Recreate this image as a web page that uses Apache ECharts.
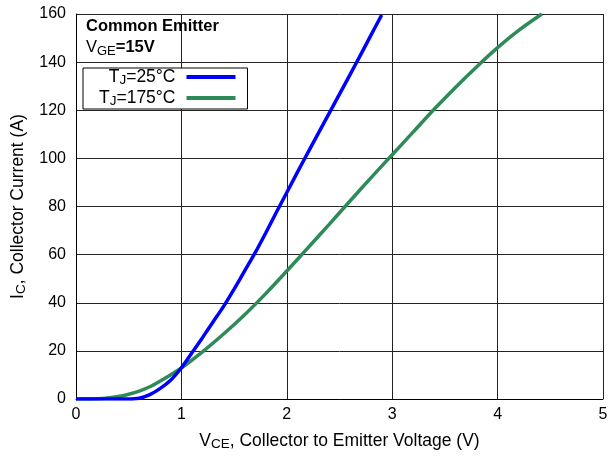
<!DOCTYPE html>
<html>
<head>
<meta charset="utf-8">
<script src="https://cdn.jsdelivr.net/npm/echarts@6/dist/echarts.min.js"></script>
<style>
html,body{margin:0;padding:0;background:#fff;}
#c{width:613px;height:456px;}
</style>
</head>
<body>
<div id="c"></div>
<script>
// Data
const xTicks = [0, 1, 2, 3, 4, 5];
const yTicks = [0, 20, 40, 60, 80, 100, 120, 140, 160];
const vce25 = [0, 0.3, 0.5, 0.6, 0.7, 0.8, 0.9, 1.0, 1.1, 1.2, 1.3, 1.4, 1.5, 1.6, 1.7, 1.8, 1.9, 2.0, 2.1, 2.2, 2.3, 2.4, 2.5, 2.6, 2.7, 2.8, 2.9];
const ic25  = [0, 0, 0, 0.3, 1.8, 4.4, 7.9, 13.0, 19.2, 25.5, 32, 38.5, 45.7, 53.2, 60.8, 69, 77.5, 85.8, 94.2, 102.4, 110.5, 118.6, 126.7, 134.8, 143, 151.3, 159.6];
const vce175 = [0, 0.1, 0.2, 0.3, 0.4, 0.5, 0.6, 0.7, 0.8, 0.9, 1.0, 1.2, 1.4, 1.6, 1.8, 2.0, 2.2, 2.4, 2.6, 2.8, 3.0, 3.2, 3.4, 3.6, 3.8, 4.0, 4.2, 4.42];
const ic175  = [0, 0, 0.1, 0.4, 1.0, 2.0, 3.3, 5.1, 7.5, 10.1, 12.9, 19.6, 27, 35, 43.8, 53.2, 62.8, 72.5, 82.3, 92, 101.5, 111, 120.5, 129.5, 138, 146, 153.2, 160];
const seriesNames = ['T_J=25°C', 'T_J=175°C'];

const pts = (xs, ys) => xs.map((x, i) => [x, ys[i]]);
const FONT = 'Liberation Sans, Arial, Helvetica, sans-serif';
const richSub = (size, sub, lh) => ({
  n: {fontFamily: FONT, fontSize: size, color: '#000', lineHeight: lh},
  s: {fontFamily: FONT, fontSize: sub, color: '#000', verticalAlign: 'bottom', lineHeight: lh - 8},
  g: {width: 6, lineHeight: lh}
});

const chart = echarts.init(document.getElementById('c'), null, {renderer: 'canvas'});
chart.setOption({
  animation: false,
  backgroundColor: '#fff',
  grid: {left: 76, right: 10, top: 14, bottom: 57, show: false, containLabel: false, outerBoundsMode: 'none'},
  xAxis: {
    type: 'value', min: xTicks[0], max: xTicks[xTicks.length - 1], interval: 1,
    axisLine: {show: true, lineStyle: {color: '#000', width: 1}},
    axisTick: {show: false},
    splitLine: {show: true, lineStyle: {color: '#222', width: 1}},
    axisLabel: {color: '#000', fontFamily: FONT, fontSize: 16, margin: 8},
    name: '{n|V}{s|CE}{n|, Collector to Emitter Voltage (V)}',
    nameLocation: 'middle', nameGap: 32,
    nameTextStyle: {rich: richSub(17.5, 13.5, 20)}
  },
  yAxis: {
    type: 'value', min: yTicks[0], max: yTicks[yTicks.length - 1], interval: 20,
    axisLine: {show: true, lineStyle: {color: '#000', width: 1}},
    axisTick: {show: false},
    splitLine: {show: true, lineStyle: {color: '#222', width: 1}},
    axisLabel: {color: '#000', fontFamily: FONT, fontSize: 16, margin: 10},
    name: '{n|I}{s|C}{n|, Collector Current (A)}',
    nameLocation: 'middle', nameGap: 48, nameRotate: 90,
    nameTextStyle: {rich: richSub(17.5, 13.5, 20)}
  },
  legend: {
    show: true, orient: 'vertical', left: 83, top: 68,
    align: 'right',
    backgroundColor: '#fff', borderColor: '#000', borderWidth: 1,
    padding: [0, 12, 1, 16], itemGap: 2,
    itemWidth: 49, itemHeight: 4, icon: 'rect',
    formatter: function (name) {
      const p = name.split('_');
      const rest = p[1];
      return '{n|' + p[0] + '}{s|' + rest.charAt(0) + '}{n|' + rest.slice(1) + '}{g|}';
    },
    textStyle: {rich: richSub(17.5, 13.5, 20)},
    data: seriesNames
  },
  graphic: [{
    type: 'text', left: 86, top: 18, z: 100,
    style: {
      text: '{b|Common Emitter}\n{n|V}{s|GE}{b|=15V}',
      rich: {
        b: {fontFamily: FONT, fontSize: 16.5, fontWeight: 'bold', color: '#000', lineHeight: 21},
        n: {fontFamily: FONT, fontSize: 16.5, color: '#000', lineHeight: 21},
        s: {fontFamily: FONT, fontSize: 13, color: '#000', verticalAlign: 'bottom', lineHeight: 13}
      }
    }
  }],
  series: [
    {name: seriesNames[0], type: 'line', smooth: 0.3, showSymbol: false, symbol: 'none',
     itemStyle: {color: '#0000ff'}, lineStyle: {color: '#0000ff', width: 3.5},
     data: pts(vce25, ic25), z: 3},
    {name: seriesNames[1], type: 'line', smooth: 0.3, showSymbol: false, symbol: 'none',
     itemStyle: {color: '#2e8b57'}, lineStyle: {color: '#2e8b57', width: 3.5},
     data: pts(vce175, ic175), z: 2}
  ]
});
</script>
</body>
</html>
